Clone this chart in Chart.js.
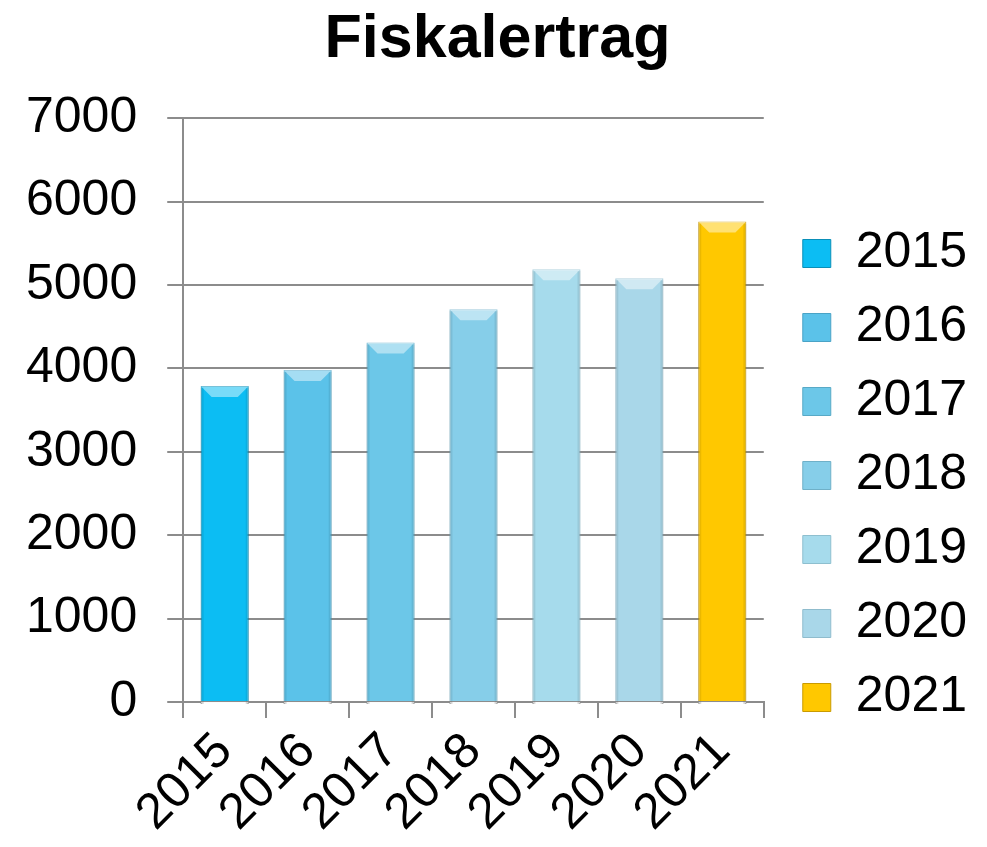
<!DOCTYPE html>
<html>
<head>
<meta charset="utf-8">
<script src="https://cdn.jsdelivr.net/npm/chart.js@4"></script>
<style>
  body { margin: 0; background: #fff; }
  #wrap { width: 987px; height: 847px; }
</style>
</head>
<body>
<div id="wrap"><canvas id="chart" width="987" height="847"></canvas></div>
<script>
// Chart data
const years = ['2015', '2016', '2017', '2018', '2019', '2020', '2021'];
const revenue = [3790, 3980, 4310, 4710, 5190, 5080, 5760];
const yTicks = [0, 1000, 2000, 3000, 4000, 5000, 6000, 7000];

// One colour per year
const fillColors = ['#0cbdf3', '#5bc2e9', '#6cc7e8', '#86cee9', '#a6dbec', '#a9d7e9', '#ffc800'];
const borderColors = ['#0a8fb8', '#4aa3c6', '#58a9c6', '#6fb0c8', '#8ebfcf', '#8fbccd', '#c99a00'];

const gridColor = '#8c8c8c';
const fontFamily = '"Liberation Sans", Arial, sans-serif';

// extra room between plot and legend, and where to move the legend / title to
const legendGap = 15;
const legendShiftY = 52;
const titleShiftX = 11;

// each year is its own dataset so the legend lists every year
const datasets = years.map((year, i) => ({
    label: year,
    data: years.map((_, j) => (j === i ? revenue[i] : null)),
    backgroundColor: fillColors[i],
    borderColor: borderColors[i],
    borderWidth: 1,
    barPercentage: 0.58,
    categoryPercentage: 1,
    grouped: false
}));

// widen the legend box on its left side, then nudge legend and title into place
const legendPlacement = {
    id: 'legendPlacement',
    beforeInit(chart) {
        const legend = chart.legend;
        const fit = legend.fit;
        legend.fit = function() {
            fit.call(this);
            this.width += legendGap;
        };
    },
    afterLayout(chart) {
        const legend = chart.legend;
        legend.left += legendGap;
        legend.top += legendShiftY;
        legend.bottom += legendShiftY;
        const title = chart.titleBlock;
        if (title) {
            title.left += titleShiftX;
            title.right += titleShiftX;
        }
    }
};

// light bevel on top of each bar, like the office 3d style
const barBevel = {
    id: 'barBevel',
    afterDatasetsDraw(chart) {
        const ctx = chart.ctx;
        chart.data.datasets.forEach((ds, i) => {
            chart.getDatasetMeta(i).data.forEach(bar => {
                if (bar.skip || bar.y == null || isNaN(bar.y)) return;
                const w = bar.width;
                const l = bar.x - w / 2;
                const r = bar.x + w / 2;
                const t = bar.y;
                const b = bar.base;
                const d = 11;
                ctx.save();
                ctx.fillStyle = 'rgba(255,255,255,0.45)';
                ctx.beginPath();
                ctx.moveTo(l, t);
                ctx.lineTo(r, t);
                ctx.lineTo(r - d, t + d);
                ctx.lineTo(l + d, t + d);
                ctx.closePath();
                ctx.fill();
                ctx.fillStyle = 'rgba(0,0,0,0.08)';
                ctx.fillRect(l, t + 2, 3, b - t - 2);
                ctx.fillRect(r - 3, t + 2, 3, b - t - 2);
                ctx.restore();
            });
        });
    }
};

new Chart(document.getElementById('chart'), {
    type: 'bar',
    data: { labels: years, datasets: datasets },
    options: {
        responsive: false,
        animation: false,
        layout: { padding: { left: -4, right: 10, top: 0, bottom: 0 } },
        plugins: {
            title: {
                display: true,
                text: 'Fiskalertrag',
                color: '#000',
                font: { family: fontFamily, size: 61, weight: 'bold' },
                padding: { top: 4, bottom: 41 }
            },
            legend: {
                position: 'right',
                labels: {
                    color: '#000',
                    font: { family: fontFamily, size: 50 },
                    boxWidth: 28,
                    boxHeight: 28,
                    padding: 24
                }
            },
            tooltip: { enabled: false }
        },
        scales: {
            y: {
                min: 0,
                max: 7000,
                afterBuildTicks: function(axis) {
                    axis.ticks = yTicks.map(v => ({ value: v }));
                },
                ticks: {
                    color: '#000',
                    font: { family: fontFamily, size: 50 },
                    padding: 30,
                    callback: v => String(v)
                },
                grid: {
                    color: gridColor,
                    lineWidth: 2,
                    tickLength: 16
                },
                border: { color: gridColor, width: 2 }
            },
            x: {
                ticks: {
                    color: '#000',
                    font: { family: fontFamily, size: 50 },
                    minRotation: 45,
                    maxRotation: 45,
                    autoSkip: false,
                    padding: 4
                },
                grid: {
                    color: gridColor,
                    lineWidth: 2,
                    offset: true,
                    drawOnChartArea: false,
                    tickLength: 16
                },
                border: { color: gridColor, width: 2 }
            }
        }
    },
    plugins: [legendPlacement, barBevel]
});
</script>
</body>
</html>
